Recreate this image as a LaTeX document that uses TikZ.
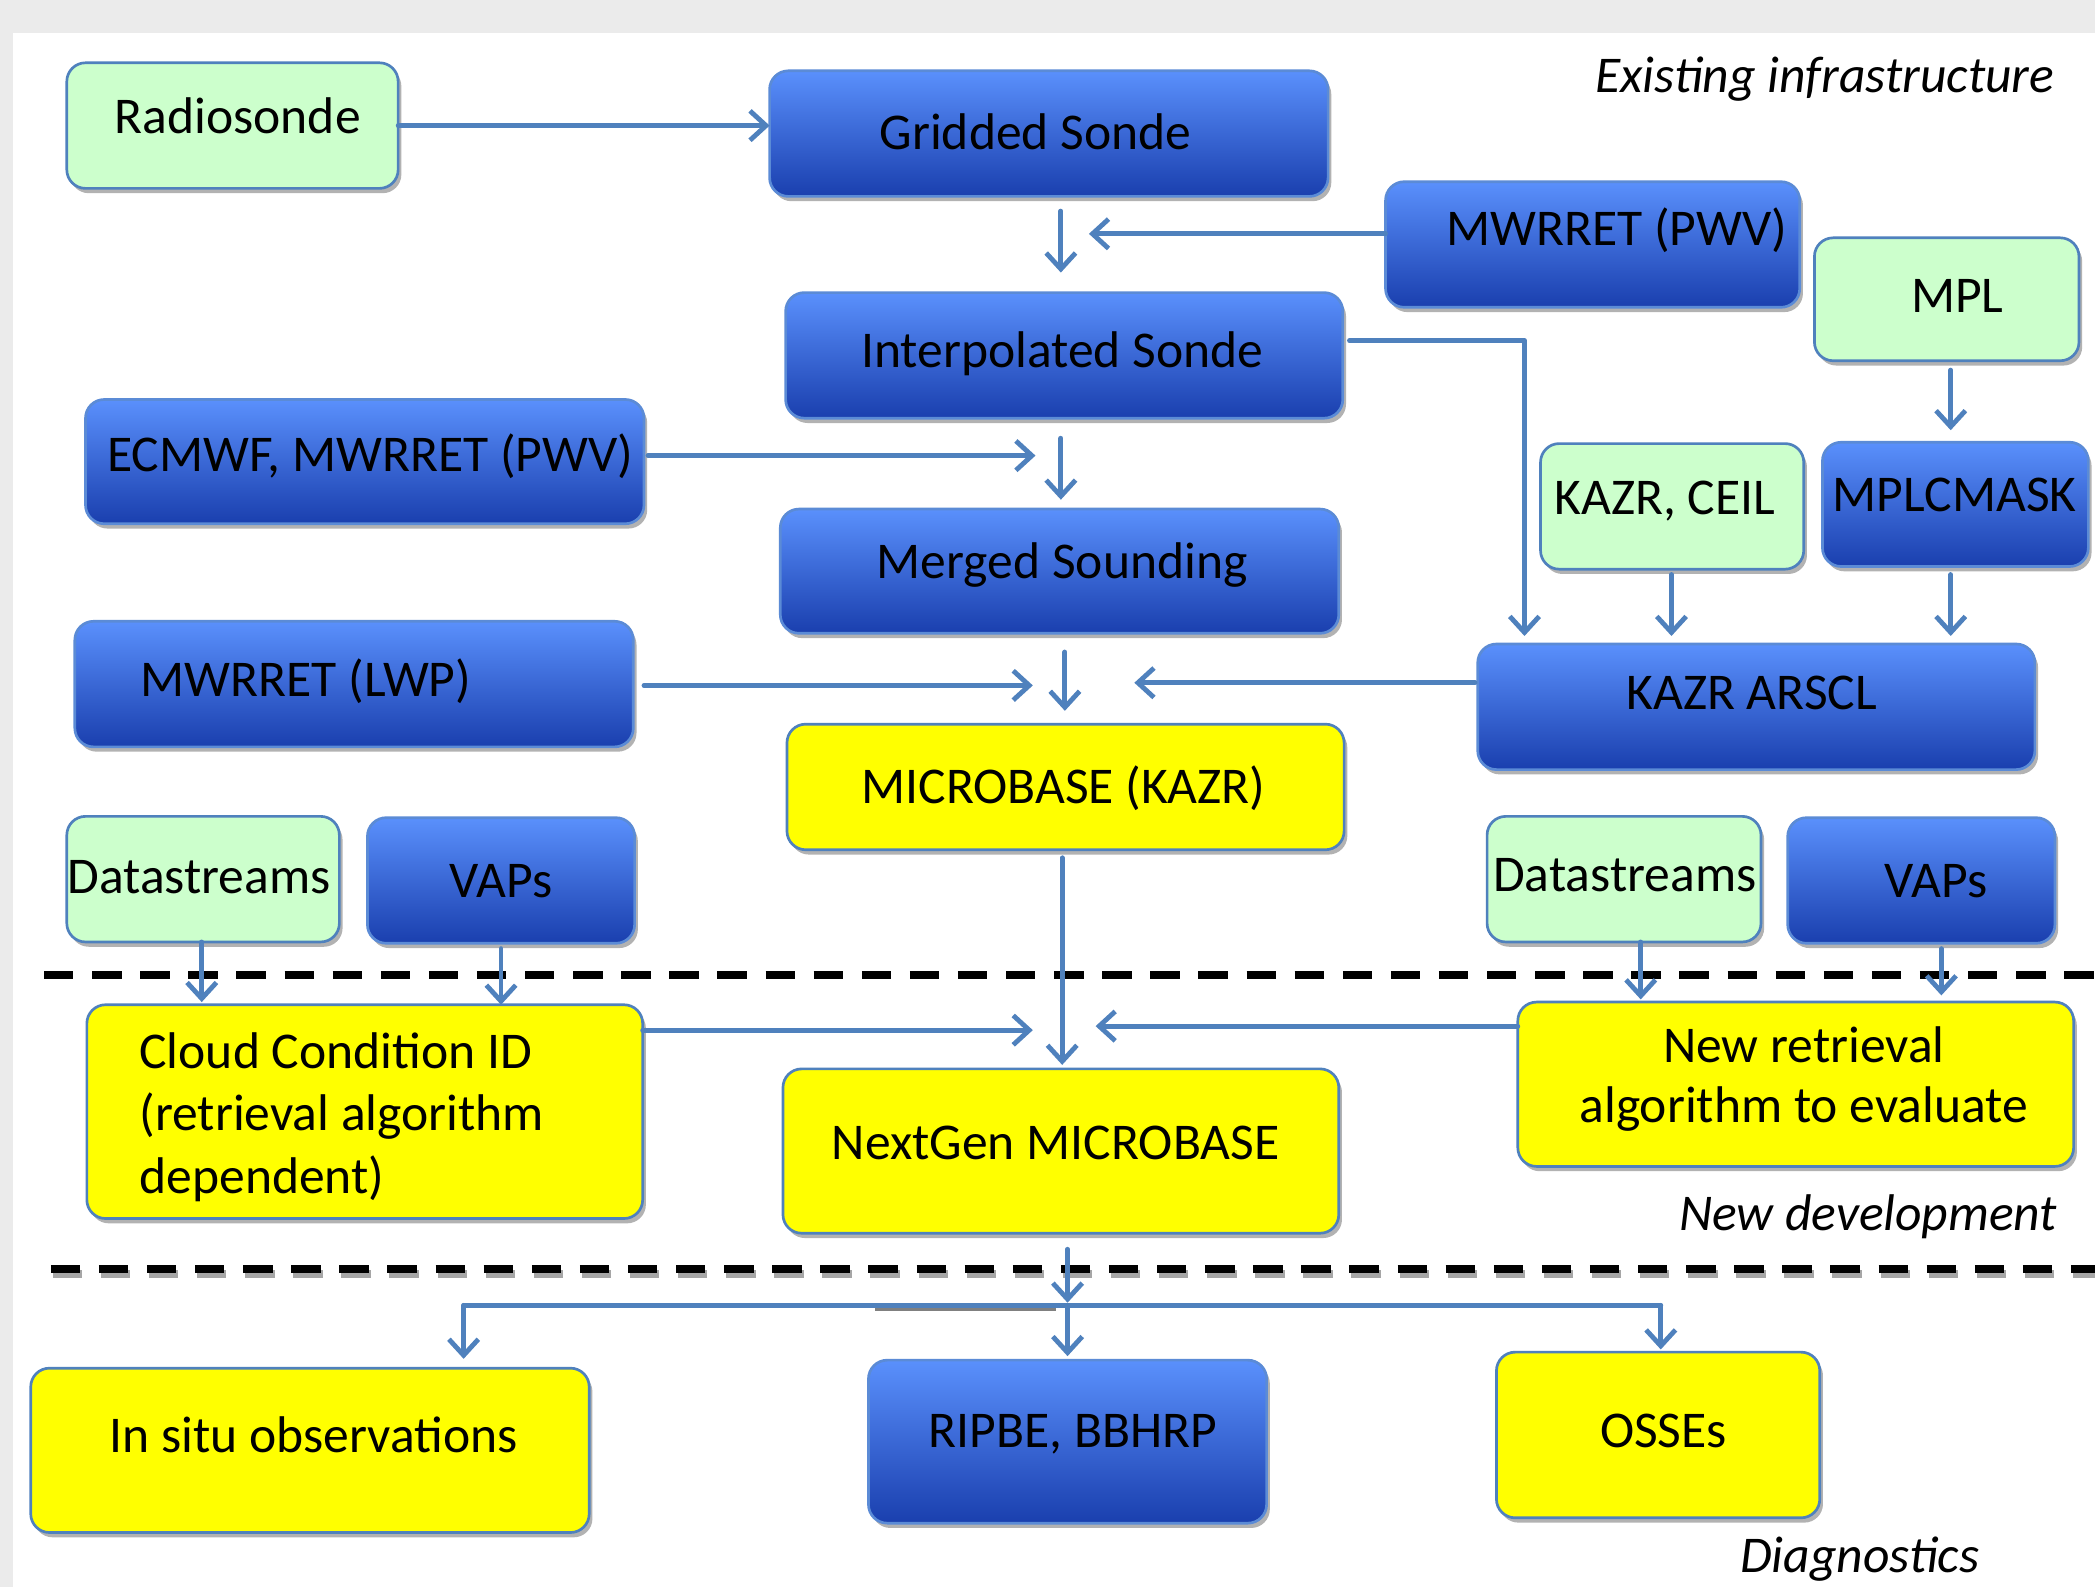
\documentclass[tikz,border=0pt]{standalone}
\usepackage{fontspec}
\setmainfont{Carlito}
\usetikzlibrary{arrows.meta,shadows,calc}
\definecolor{bgray}{HTML}{EBEBEB}
\definecolor{btop}{HTML}{5A90FC}
\definecolor{bbot}{HTML}{1A3FAE}
\definecolor{bedge}{HTML}{5B8BD6}
\definecolor{bord}{HTML}{4F81BD}
\definecolor{gfill}{HTML}{CCFFCC}
\definecolor{yfill}{HTML}{FFFF00}
\definecolor{acol}{HTML}{4F81BD}
\newcommand\mainsz{\fontsize{19.3}{23.2}\selectfont}
\newcommand\mkbox[6]{%
  \pgfmathsetmacro\mkcx{(#3+#5)/2}%
  \pgfmathsetmacro\mkcy{(#4+#6)/2}%
  \pgfmathsetmacro\mkww{(#5-#3)*0.5}%
  \pgfmathsetmacro\mkhh{(#6-#4)*0.5}%
  \node[#2, minimum width=\mkww pt, minimum height=\mkhh pt] (#1) at (\mkcx,\mkcy) {};}
\begin{document}
\begin{tikzpicture}[x=0.5pt,y=-0.5pt,
  box/.style={rectangle, rounded corners=7pt, draw=bord, line width=1pt,
    outer sep=0pt, inner sep=0pt,
    drop shadow={shadow xshift=1.2pt, shadow yshift=-1.8pt, opacity=0.3, fill=black}},
  bluebox/.style={box, top color=btop, bottom color=bbot, draw=bedge},
  greenbox/.style={box, fill=gfill},
  yelbox/.style={box, fill=yfill},
  txt/.style={font=\mainsz, inner sep=0pt, anchor=base},
  itxt/.style={font=\mainsz\itshape, inner sep=0pt},
  arr/.style={draw=acol, line width=1.8pt, line cap=round, line join=round,
    -{Straight Barb[length=6pt, width=11pt, line width=1.8pt]}},
  arrline/.style={draw=acol, line width=1.8pt, line cap=round, line join=round},
  dashline/.style={draw=black, line width=3pt, dash pattern=on 11pt off 7pt}
]
\useasboundingbox (0,0) rectangle (1568,1188);
\fill[bgray] (0,0) rectangle (1568,1188);
\fill[white] (10,25) rectangle (1568,1188);

% dashed separators
\draw[dashline] (33,730) -- (1568,730);
\draw[dashline, draw=black!35] (39.5,953.5) -- (1568,953.5);
\draw[dashline] (38,950) -- (1568,950);

% boxes
\mkbox{radio}{greenbox}{50}{47}{298}{141}
\mkbox{grid}{bluebox}{576}{53}{994}{147}
\mkbox{mwr1}{bluebox}{1037}{136}{1347}{230}
\mkbox{mpl}{greenbox}{1358}{178}{1556}{270}
\mkbox{interp}{bluebox}{588}{219}{1005}{313}
\mkbox{ecmwf}{bluebox}{64}{299}{482}{392}
\mkbox{kazrceil}{greenbox}{1153}{332}{1350}{426}
\mkbox{mplc}{bluebox}{1364}{331}{1563}{424}
\mkbox{merged}{bluebox}{584}{381}{1002}{474}
\mkbox{mwrlwp}{bluebox}{56}{465}{474}{559}
\mkbox{arscl}{bluebox}{1106}{482}{1523}{576}
\mkbox{micro}{yelbox}{589}{542}{1006}{636}
\mkbox{dsL}{greenbox}{50}{611}{254}{705}
\mkbox{vapL}{bluebox}{275}{612}{475}{706}
\mkbox{dsR}{greenbox}{1113}{611}{1318}{705}
\mkbox{vapR}{bluebox}{1338}{612}{1538}{706}
\mkbox{ccid}{yelbox}{65}{752}{481}{912}
\mkbox{newret}{yelbox}{1136}{750}{1552}{873}
\mkbox{nextgen}{yelbox}{586}{800}{1002}{923}
\mkbox{insitu}{yelbox}{23}{1024}{441}{1147}
\mkbox{ripbe}{bluebox}{650}{1018}{948}{1140}
\mkbox{osse}{yelbox}{1120}{1012}{1362}{1136}

% texts
\node[txt] (tradio) at (178,100) {Radiosonde};
\node[txt] (tgrid) at (775,112) {Gridded Sonde};
\node[txt] (tmwr1) at (1210,184) {MWRRET (PWV)};
\node[txt] (tmpl) at (1465,234) {MPL};
\node[txt] (tinterp) at (795,275) {Interpolated Sonde};
\node[txt] (tecmwf) at (277,353) {ECMWF, MWRRET (PWV)};
\node[txt] (tkazrceil) at (1246,385) {KAZR, CEIL};
\node[txt] (tmplc) at (1463,383) {MPLCMASK};
\node[txt] (tmerged) at (795,433) {Merged Sounding};
\node[txt] (tmwrlwp) at (229,521) {MWRRET (LWP)};
\node[txt] (tarscl) at (1311,531) {KAZR ARSCL};
\node[txt] (tmicro) at (796,601) {MICROBASE (KAZR)};
\node[txt] (tdsL) at (149,669) {Datastreams};
\node[txt] (tvapL) at (375,672) {VAPs};
\node[txt] (tdsR) at (1216,667) {Datastreams};
\node[txt] (tvapR) at (1449,672) {VAPs};
\node[txt, anchor=base west] (tccid1) at (104,800) {Cloud Condition ID};
\node[txt, anchor=base west] (tccid2) at (104,846) {(retrieval algorithm};
\node[txt, anchor=base west] (tccid3) at (104,893) {dependent)};
\node[txt] (tnewret1) at (1350,795) {New retrieval};
\node[txt] (tnewret2) at (1350,840) {algorithm to evaluate};
\node[txt] (tnextgen) at (790,868) {NextGen MICROBASE};
\node[txt] (tinsitu) at (235,1087) {In situ observations};
\node[txt] (tripbe) at (803,1083) {RIPBE, BBHRP};
\node[txt] (tosse) at (1245,1083) {OSSEs};
\node[itxt, anchor=base east] (lexist) at (1538,69) {Existing infrastructure};
\node[itxt, anchor=base east] (lnew) at (1540,921) {New development};
\node[itxt, anchor=base] (ldiag) at (1392,1177) {Diagnostics};

% connector coordinates
\coordinate (gi1) at (794,158); \coordinate (gi2) at (794,204);
\coordinate (m1e) at (815,175);
\coordinate (k1) at (1141,255); \coordinate (k2) at (1141,476);
\coordinate (mp) at (1460,322);
\coordinate (e1) at (775,341);
\coordinate (im1) at (794,328); \coordinate (im2) at (794,374);
\coordinate (kc) at (1251,476);
\coordinate (mc) at (1460,476);
\coordinate (lw) at (773,513);
\coordinate (ma1) at (797,488); \coordinate (ma2) at (797,532);
\coordinate (ar) at (849,511);
\coordinate (mb) at (795,797);
\coordinate (dl) at (151,750);
\coordinate (vl) at (375,752);
\coordinate (dr) at (1228,748);
\coordinate (vr) at (1453,745);
\coordinate (cc) at (773,771);
\coordinate (nr) at (820,768);
\coordinate (ng) at (799,975);
\coordinate (bl) at (347,977); \coordinate (bm) at (799,977); \coordinate (br) at (1243,977);

% connectors
\draw[arr] (radio.east) -- (radio.east -| grid.west);
\draw[arr] (gi1) -- (gi2);
\draw[arr] (mwr1.west |- m1e) -- (m1e);
\draw[arr, shorten <=2.5pt] (interp.east |- k1) -- (k1) -- (k2);
\draw[arr, shorten <=3.5pt] (mpl.south -| mp) -- (mp);
\draw[arr, shorten <=1.5pt] (ecmwf.east |- e1) -- (e1);
\draw[arr] (im1) -- (im2);
\draw[arr, shorten <=2pt] (kazrceil.south -| kc) -- (kc);
\draw[arr, shorten <=3pt] (mplc.south -| mc) -- (mc);
\draw[arr, shorten <=4pt] (mwrlwp.east |- lw) -- (lw);
\draw[arr] (ma1) -- (ma2);
\draw[arr, shorten <=1pt] (arscl.west |- ar) -- (ar);
\draw[arr, shorten <=3pt] (micro.south -| mb) -- (mb);
\draw[arr] (dsL.south -| dl) -- (dl);
\draw[arr, shorten <=2pt] (vapL.south -| vl) -- (vl);
\draw[arr] (dsR.south -| dr) -- (dr);
\draw[arr, shorten <=2pt] (vapR.south -| vr) -- (vr);
\draw[arr] (ccid.east |- cc) -- (cc);
\draw[arr] (newret.west |- nr) -- (nr);
\draw[arr, shorten <=6pt] (nextgen.south -| ng) -- (ng);
\draw[black!50, line width=1.5pt] (655,980) -- (790,980);
\draw[arrline] (bl) -- (br);
\draw[arr, shorten >=3.5pt] (bl) -- (bl |- insitu.north);
\draw[arr, shorten >=1.5pt] (bm) -- (bm |- ripbe.north);
\draw[arr, shorten >=1pt] (br) -- (br |- osse.north);
\end{tikzpicture}
\end{document}
